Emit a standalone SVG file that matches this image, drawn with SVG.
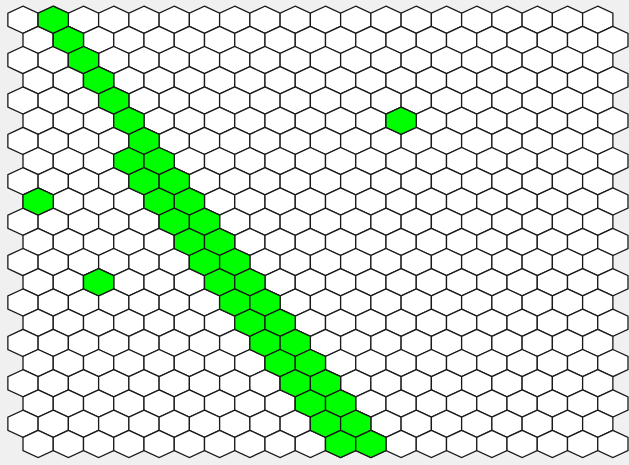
<svg xmlns="http://www.w3.org/2000/svg" width="629" height="465" viewBox="0 0 629 465">
<style>
.c{fill:#ffffff;stroke:#1a1a1a;stroke-width:1.3}
.g{fill:#00ff00;stroke:#1a1a1a;stroke-width:1.3}
</style>
<defs>
<polygon id="h" points="0,-13.6 15.125,-6.6 15.125,6.6 0,13.6 -15.125,6.6 -15.125,-6.6"/>
<g id="row">
<use href="#h" x="23"/><use href="#h" x="53.25"/><use href="#h" x="83.5"/><use href="#h" x="113.75"/><use href="#h" x="144"/>
<use href="#h" x="174.25"/><use href="#h" x="204.5"/><use href="#h" x="234.75"/><use href="#h" x="265"/><use href="#h" x="295.25"/>
<use href="#h" x="325.5"/><use href="#h" x="355.75"/><use href="#h" x="386"/><use href="#h" x="416.25"/><use href="#h" x="446.5"/>
<use href="#h" x="476.75"/><use href="#h" x="507"/><use href="#h" x="537.25"/><use href="#h" x="567.5"/><use href="#h" x="597.75"/>
</g>
</defs>
<rect width="629" height="465" fill="#f0f0f0"/>
<g id="grid" class="c">
<use href="#row" y="19.7"/>
<use href="#row" x="15.125" y="39.9"/>
<use href="#row" y="60.1"/>
<use href="#row" x="15.125" y="80.3"/>
<use href="#row" y="100.5"/>
<use href="#row" x="15.125" y="120.7"/>
<use href="#row" y="140.9"/>
<use href="#row" x="15.125" y="161.1"/>
<use href="#row" y="181.3"/>
<use href="#row" x="15.125" y="201.5"/>
<use href="#row" y="221.7"/>
<use href="#row" x="15.125" y="241.9"/>
<use href="#row" y="262.1"/>
<use href="#row" x="15.125" y="282.3"/>
<use href="#row" y="302.5"/>
<use href="#row" x="15.125" y="322.7"/>
<use href="#row" y="342.9"/>
<use href="#row" x="15.125" y="363.1"/>
<use href="#row" y="383.3"/>
<use href="#row" x="15.125" y="403.5"/>
<use href="#row" y="423.7"/>
<use href="#row" x="15.125" y="443.9"/>
</g>
<g id="highlighted" class="g">
<use href="#h" x="53.25" y="19.7"/>
<use href="#h" x="68.375" y="39.9"/>
<use href="#h" x="83.5" y="60.1"/>
<use href="#h" x="98.625" y="80.3"/>
<use href="#h" x="113.75" y="100.5"/>
<use href="#h" x="128.875" y="120.7"/>
<use href="#h" x="401.125" y="120.7"/>
<use href="#h" x="144" y="140.9"/>
<use href="#h" x="128.875" y="161.1"/>
<use href="#h" x="159.125" y="161.1"/>
<use href="#h" x="144" y="181.3"/>
<use href="#h" x="174.25" y="181.3"/>
<use href="#h" x="38.125" y="201.5"/>
<use href="#h" x="159.125" y="201.5"/>
<use href="#h" x="189.375" y="201.5"/>
<use href="#h" x="174.25" y="221.7"/>
<use href="#h" x="204.5" y="221.7"/>
<use href="#h" x="189.375" y="241.9"/>
<use href="#h" x="219.625" y="241.9"/>
<use href="#h" x="204.5" y="262.1"/>
<use href="#h" x="234.75" y="262.1"/>
<use href="#h" x="98.625" y="282.3"/>
<use href="#h" x="219.625" y="282.3"/>
<use href="#h" x="249.875" y="282.3"/>
<use href="#h" x="234.75" y="302.5"/>
<use href="#h" x="265" y="302.5"/>
<use href="#h" x="249.875" y="322.7"/>
<use href="#h" x="280.125" y="322.7"/>
<use href="#h" x="265" y="342.9"/>
<use href="#h" x="295.25" y="342.9"/>
<use href="#h" x="280.125" y="363.1"/>
<use href="#h" x="310.375" y="363.1"/>
<use href="#h" x="295.25" y="383.3"/>
<use href="#h" x="325.5" y="383.3"/>
<use href="#h" x="310.375" y="403.5"/>
<use href="#h" x="340.625" y="403.5"/>
<use href="#h" x="325.5" y="423.7"/>
<use href="#h" x="355.75" y="423.7"/>
<use href="#h" x="340.625" y="443.9"/>
<use href="#h" x="370.875" y="443.9"/>
</g>
</svg>
